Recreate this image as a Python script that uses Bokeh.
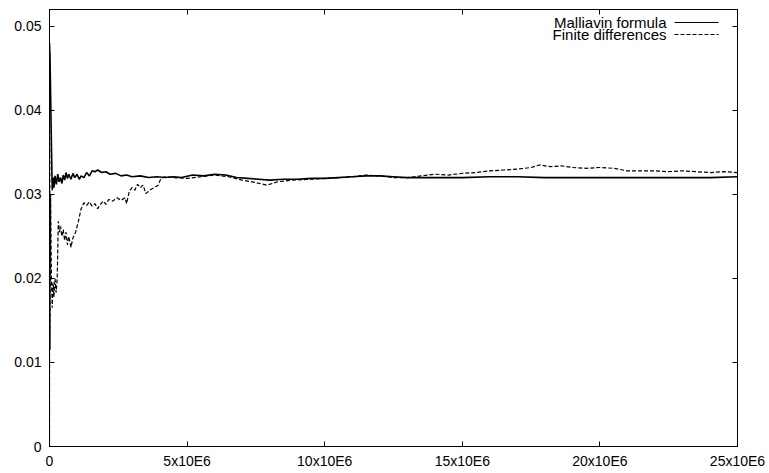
from bokeh.plotting import figure
from bokeh.models import Range1d, FixedTicker, LinearAxis, Label, Arrow
from bokeh.embed import file_html
from bokeh.resources import INLINE
import numpy as np

# ---------------- data (x in units of 10^6 samples) ----------------
malliavin_x_m = [0.0, 0.02, 0.04, 0.06, 0.08, 0.10, 0.13, 0.16, 0.20, 0.25, 0.30, 0.35, 0.40, 0.45,
                 0.50, 0.55, 0.60, 0.65, 0.70, 0.78, 0.85, 0.92, 1.00, 1.08, 1.15, 1.25, 1.35, 1.45,
                 1.55, 1.65, 1.75, 1.90, 2.05, 2.20, 2.40, 2.60, 2.80, 3.00, 3.30, 3.60, 3.90, 4.20,
                 4.50, 4.80, 5.20, 5.60, 6.00, 6.40, 6.80, 7.20, 7.60, 8.00, 8.50, 9.00, 9.50, 10.0,
                 10.5, 11.0, 11.5, 12.0, 12.5, 13.0, 14.0, 15.0, 16.0, 17.0, 18.0, 19.0, 20.0, 21.0,
                 22.0, 23.0, 24.0, 25.0]
malliavin_y = [0.0480, 0.0460, 0.0420, 0.0380, 0.0340, 0.0305, 0.0320, 0.0308, 0.0322, 0.0312, 0.0324,
               0.0315, 0.0320, 0.0313, 0.0323, 0.0317, 0.0326, 0.0319, 0.0324, 0.0318, 0.0325, 0.0320,
               0.0324, 0.0318, 0.0322, 0.0320, 0.0326, 0.0322, 0.0328, 0.0327, 0.0329, 0.0326, 0.0327,
               0.0324, 0.0325, 0.0322, 0.0323, 0.0321, 0.0322, 0.0320, 0.0321, 0.0320, 0.0321, 0.0320,
               0.0323, 0.0322, 0.0324, 0.0323, 0.0320, 0.0319, 0.0318, 0.0317, 0.0318, 0.0318, 0.0319,
               0.0319, 0.0320, 0.0321, 0.0322, 0.0322, 0.0321, 0.0320, 0.0320, 0.0320, 0.0321, 0.0321,
               0.0320, 0.0320, 0.0320, 0.0320, 0.0320, 0.0320, 0.0320, 0.0321]

finite_x_m = [0.0, 0.005, 0.02, 0.04, 0.07, 0.10, 0.13, 0.16, 0.20, 0.24, 0.28, 0.32, 0.36, 0.40, 0.45,
              0.50, 0.55, 0.60, 0.65, 0.70, 0.78, 0.85, 0.95, 1.05, 1.15, 1.25, 1.35, 1.45, 1.55, 1.65,
              1.75, 1.85, 1.95, 2.05, 2.15, 2.30, 2.45, 2.60, 2.75, 2.80, 2.90, 3.00, 3.10, 3.20, 3.30,
              3.40, 3.50, 3.65, 3.80, 3.95, 4.05, 4.20, 4.50, 5.00, 5.50, 6.00, 6.50, 7.00, 7.50, 7.90,
              8.30, 8.80, 9.50, 10.0, 10.5, 11.0, 11.5, 12.0, 12.5, 13.0, 13.5, 14.0, 14.5, 15.0, 15.5,
              16.0, 16.5, 17.0, 17.5, 17.8, 18.2, 18.6, 19.0, 19.5, 20.0, 20.5, 21.0, 21.5, 22.0, 22.5,
              23.0, 23.5, 24.0, 24.5, 25.0]
finite_y = [0.0, 0.0470, 0.0115, 0.0300, 0.0200, 0.0165, 0.0195, 0.0178, 0.0200, 0.0183, 0.0200, 0.0268,
            0.0255, 0.0262, 0.0250, 0.0258, 0.0245, 0.0255, 0.0240, 0.0250, 0.0237, 0.0248, 0.0255, 0.0268,
            0.0283, 0.0290, 0.0287, 0.0291, 0.0286, 0.0289, 0.0283, 0.0288, 0.0292, 0.0288, 0.0294, 0.0292,
            0.0296, 0.0293, 0.0296, 0.0289, 0.0304, 0.0308, 0.0305, 0.0312, 0.0308, 0.0311, 0.0301, 0.0305,
            0.0308, 0.0311, 0.0319, 0.0321, 0.0320, 0.0319, 0.0321, 0.0323, 0.0321, 0.0317, 0.0314, 0.0311,
            0.0315, 0.0317, 0.0318, 0.0319, 0.0320, 0.0321, 0.0323, 0.0322, 0.0320, 0.0320, 0.0322, 0.0324,
            0.0323, 0.0325, 0.0326, 0.0328, 0.0329, 0.0330, 0.0332, 0.0335, 0.0333, 0.0334, 0.0332, 0.0331,
            0.0332, 0.0331, 0.0328, 0.0328, 0.0328, 0.0327, 0.0328, 0.0327, 0.0326, 0.0327, 0.0326]

x_ticks = [0, 5000000, 10000000, 15000000, 20000000, 25000000]
x_tick_labels = ["0", "5x10E6", "10x10E6", "15x10E6", "20x10E6", "25x10E6"]
y_ticks = [0, 0.01, 0.02, 0.03, 0.04, 0.05]
y_tick_labels = ["0", "0.01", "0.02", "0.03", "0.04", "0.05"]
series_names = ["Malliavin formula", "Finite differences"]

FONT = "Liberation Sans"
FS = "14px"
LEGEND_FS = "15px"

p = figure(width=769, height=473, output_backend="svg", toolbar_location=None,
           x_range=Range1d(0, 25000000), y_range=Range1d(0, 0.052),
           min_border_left=49, min_border_right=32, min_border_top=9, min_border_bottom=27)
p.background_fill_color = "white"
p.border_fill_color = "white"
p.outline_line_color = "black"
p.outline_line_width = 1
p.xgrid.visible = False
p.ygrid.visible = False

mx = np.array(malliavin_x_m) * 1e6
fx = np.array(finite_x_m) * 1e6
p.line(mx, malliavin_y, line_color="black", line_width=1.6)
p.line(fx, finite_y, line_color="black", line_width=1.2, line_dash="4 2")


def style_axis(ax, ticks, labels, show_labels=True):
    ax.ticker = FixedTicker(ticks=ticks)
    ax.major_tick_in = 5
    ax.major_tick_out = 0
    ax.minor_tick_line_color = None
    ax.axis_line_color = "black"
    ax.major_tick_line_color = "black"
    ax.major_label_text_font = FONT
    ax.major_label_text_color = "black"
    if show_labels:
        ax.major_label_overrides = {t: l for t, l in zip(ticks, labels)}
        ax.major_label_text_font_size = FS
        ax.major_label_standoff = 6
    else:
        ax.major_label_text_font_size = FS
        ax.major_label_text_color = None
        ax.major_label_overrides = {t: "" for t in ticks}
        ax.major_label_standoff = 0


style_axis(p.xaxis[0], x_ticks, x_tick_labels)
style_axis(p.yaxis[0], y_ticks, y_tick_labels)
p.yaxis[0].major_label_standoff = 8

top_ax = LinearAxis()
style_axis(top_ax, x_ticks, x_tick_labels, show_labels=False)
p.add_layout(top_ax, "above")
right_ax = LinearAxis()
style_axis(right_ax, y_ticks, y_tick_labels, show_labels=False)
p.add_layout(right_ax, "right")

# legend in gnuplot style (text right, sample line after it), positioned in screen units
dashes = [None, "4 2"]
for i, name in enumerate(series_names):
    ys = 424 - 12 * i
    p.add_layout(Label(x=617, y=ys, x_units="screen", y_units="screen", text=name,
                       text_align="right", text_baseline="middle", text_font=FONT,
                       text_font_size=LEGEND_FS, text_color="black"))
    arr = Arrow(start=None, end=None, x_start=625, x_end=669, y_start=ys, y_end=ys,
                start_units="screen", end_units="screen", line_color="black", line_width=1)
    if dashes[i]:
        arr.line_dash = dashes[i]
    p.add_layout(arr)

open("out.html", "w").write(file_html(p, INLINE))
